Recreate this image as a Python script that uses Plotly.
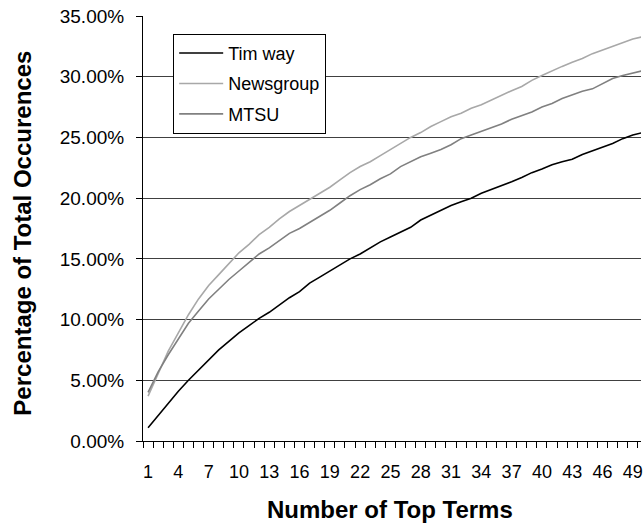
import plotly.graph_objects as go

terms = list(range(1, 51))

tim_way = [1.1, 2.1, 3.1, 4.1, 5.0, 5.85, 6.7, 7.5, 8.2, 8.9,
           9.5, 10.1, 10.6, 11.2, 11.8, 12.3, 13.0, 13.5, 14.0, 14.5,
           15.0, 15.4, 15.9, 16.4, 16.8, 17.2, 17.6, 18.2, 18.6, 19.0,
           19.4, 19.7, 20.0, 20.4, 20.7, 21.0, 21.35, 21.7, 22.1, 22.4,
           22.75, 23.0, 23.2, 23.6, 23.9, 24.2, 24.5, 24.9, 25.2, 25.4]

newsgroup = [3.7, 5.6, 7.4, 8.9, 10.4, 11.7, 12.8, 13.7, 14.6, 15.5,
             16.2, 17.0, 17.6, 18.3, 18.9, 19.4, 19.9, 20.4, 20.9, 21.5,
             22.1, 22.6, 23.0, 23.5, 24.0, 24.5, 25.0, 25.4, 25.9, 26.3,
             26.7, 27.0, 27.4, 27.7, 28.1, 28.5, 28.85, 29.2, 29.7, 30.1,
             30.5, 30.85, 31.2, 31.5, 31.9, 32.2, 32.5, 32.8, 33.1, 33.3]

mtsu = [4.0, 5.7, 7.1, 8.4, 9.7, 10.7, 11.7, 12.5, 13.3, 14.0,
        14.7, 15.4, 15.9, 16.5, 17.1, 17.5, 18.0, 18.5, 19.0, 19.6,
        20.2, 20.7, 21.1, 21.6, 22.0, 22.6, 23.0, 23.4, 23.7, 24.0,
        24.4, 24.9, 25.2, 25.5, 25.8, 26.1, 26.5, 26.8, 27.1, 27.5,
        27.8, 28.2, 28.5, 28.8, 29.0, 29.4, 29.85, 30.1, 30.3, 30.5]

x_tick_vals = list(range(1, 51, 3))
x_tick_text = [str(v) for v in x_tick_vals]
y_tick_vals = [0, 0.05, 0.10, 0.15, 0.20, 0.25, 0.30, 0.35]

FONT = "Liberation Sans, Arial, sans-serif"

fig = go.Figure()
series = [("Tim way", tim_way, "#000000"),
          ("Newsgroup", newsgroup, "#a8a8a8"),
          ("MTSU", mtsu, "#808080")]
for i, (name, vals, col) in enumerate(series):
    fig.add_trace(go.Scatter(
        x=terms, y=[v / 100 for v in vals], mode="lines", name=name,
        legendgroup=f"g{i}",
        line=dict(color=col, width=1.6),
    ))

fig.update_layout(
    width=643, height=525,
    margin=dict(l=143, r=0, t=16, b=84),
    paper_bgcolor="white", plot_bgcolor="white",
    font=dict(family=FONT, color="black", size=18),
    showlegend=True,
    legend=dict(
        x=0.0606, y=0.958, xanchor="left", yanchor="top",
        bgcolor="white", bordercolor="black", borderwidth=1,
        font=dict(family=FONT, size=18, color="black"),
        tracegroupgap=4, itemwidth=44,
    ),
    xaxis=dict(
        range=[0.5, 49.81], showgrid=False, zeroline=False,
        showline=True, linecolor="black", linewidth=1,
        tickmode="array", tickvals=x_tick_vals, ticktext=x_tick_text,
        ticks="", tickfont=dict(size=18),
        ticklabelstandoff=14, ticklabeloverflow="allow",
        minor=dict(tickmode="array", tickvals=[v + 0.5 for v in range(0, 50)],
                   ticks="outside", ticklen=6, tickcolor="black", tickwidth=1,
                   showgrid=False),
    ),
    yaxis=dict(
        range=[0, 0.35], tickmode="array", tickvals=y_tick_vals,
        tickformat=".2%", showgrid=True, gridcolor="#404040", gridwidth=1,
        zeroline=False, showline=True, linecolor="black", linewidth=1,
        ticks="outside", ticklen=6, tickcolor="black",
        tickfont=dict(size=19), ticklabelstandoff=8,
        ticklabeloverflow="allow",
    ),
    annotations=[
        dict(text="<b>Percentage of Total Occurences</b>", textangle=-90,
             xref="paper", yref="paper", x=-0.242, y=0.489,
             xanchor="center", yanchor="middle", showarrow=False,
             font=dict(family=FONT, size=24, color="black")),
        dict(text="<b>Number of Top Terms</b>",
             xref="paper", yref="paper", x=0.496, y=-0.162,
             xanchor="center", yanchor="middle", showarrow=False,
             font=dict(family=FONT, size=24, color="black")),
    ],
)

fig.write_html("out.html",
               config={"displayModeBar": False},
               post_script="document.body.style.margin='0px';document.body.style.overflow='hidden';")
